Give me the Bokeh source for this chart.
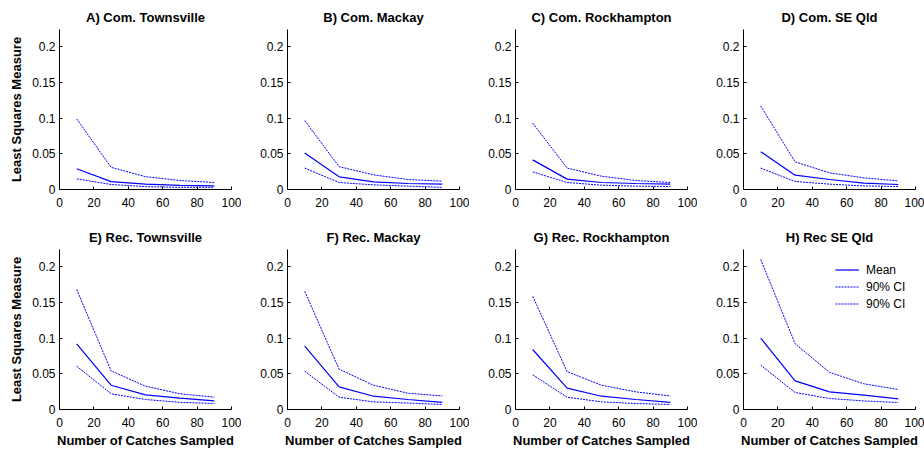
from bokeh.plotting import figure
from bokeh.layouts import gridplot
from bokeh.models import Range1d, FixedTicker, Legend, LegendItem
from bokeh.embed import file_html
from bokeh.resources import INLINE

# ---- data ----
catches = [10, 30, 50, 70, 90]
titles = ["A) Com. Townsville", "B) Com. Mackay", "C) Com. Rockhampton", "D) Com. SE Qld",
          "E) Rec. Townsville", "F) Rec. Mackay", "G) Rec. Rockhampton", "H) Rec SE Qld"]
mean_ls = [
    [0.029, 0.011, 0.0075, 0.0058, 0.005],
    [0.051, 0.0177, 0.0107, 0.0084, 0.0075],
    [0.0415, 0.0145, 0.0098, 0.0084, 0.0075],
    [0.053, 0.020, 0.014, 0.009, 0.007],
    [0.092, 0.034, 0.0205, 0.016, 0.012],
    [0.0886, 0.0317, 0.0186, 0.014, 0.010],
    [0.084, 0.030, 0.0186, 0.014, 0.010],
    [0.100, 0.040, 0.0247, 0.020, 0.015],
]
upper_ci = [
    [0.0988, 0.031, 0.018, 0.0126, 0.0098],
    [0.0965, 0.032, 0.0205, 0.014, 0.0117],
    [0.093, 0.030, 0.0186, 0.0126, 0.0098],
    [0.117, 0.0387, 0.0233, 0.0163, 0.012],
    [0.168, 0.054, 0.0326, 0.022, 0.0172],
    [0.1655, 0.0564, 0.034, 0.0228, 0.019],
    [0.1585, 0.053, 0.034, 0.0247, 0.019],
    [0.210, 0.092, 0.052, 0.036, 0.028],
]
lower_ci = [
    [0.0149, 0.007, 0.004, 0.003, 0.003],
    [0.030, 0.0098, 0.0065, 0.0047, 0.003],
    [0.0247, 0.0098, 0.006, 0.0047, 0.0042],
    [0.030, 0.0112, 0.0075, 0.005, 0.0042],
    [0.0606, 0.022, 0.014, 0.010, 0.0084],
    [0.0536, 0.0172, 0.0107, 0.009, 0.007],
    [0.0485, 0.0172, 0.0107, 0.0084, 0.007],
    [0.062, 0.0238, 0.0154, 0.012, 0.0098],
]
x_ticks = [0, 20, 40, 60, 80, 100]
y_ticks = [0, 0.05, 0.1, 0.15, 0.2]
y_tick_labels = ["0", "0.05", "0.1", "0.15", "0.2"]
legend_labels = ["Mean", "90% CI", "90% CI"]

FONT = "Liberation Sans"
BLUE = "#0000ff"

figs = []
for i in range(8):
    r, c = divmod(i, 4)
    left = 59 if c == 0 else 46
    right = 10 if c < 3 else 9
    w = left + 172 + right
    top = 29
    bottom = 31 if r == 0 else 41
    h = top + 160 + bottom
    p = figure(width=w, height=h, output_backend="svg", toolbar_location=None,
               x_range=Range1d(0, 100), y_range=Range1d(0, 0.224),
               min_border_left=left, min_border_right=right,
               min_border_top=top, min_border_bottom=bottom,
               title=titles[i])
    p.title.text_font = FONT
    p.title.text_font_size = "13px"
    p.title.text_font_style = "bold"
    p.title.align = "center"
    p.title.standoff = 9
    p.title.text_color = "black"
    p.outline_line_color = None
    p.xgrid.visible = False
    p.ygrid.visible = False
    p.background_fill_color = "white"
    p.border_fill_color = "white"
    for ax in (p.xaxis[0], p.yaxis[0]):
        ax.axis_line_color = "black"
        ax.major_tick_line_color = "black"
        ax.major_tick_in = 3
        ax.major_tick_out = 0
        ax.minor_tick_line_color = None
        ax.major_label_text_font = FONT
        ax.major_label_text_font_size = "12px"
        ax.major_label_text_color = "black"
        ax.axis_label_text_font = FONT
        ax.axis_label_text_font_size = "13px"
        ax.axis_label_text_font_style = "bold"
        ax.axis_label_text_color = "black"
    p.xaxis[0].ticker = FixedTicker(ticks=x_ticks)
    p.yaxis[0].ticker = FixedTicker(ticks=y_ticks)
    p.yaxis[0].major_label_overrides = {t: l for t, l in zip(y_ticks, y_tick_labels)}
    p.xaxis[0].major_label_standoff = 8
    p.yaxis[0].major_label_standoff = 4
    if c == 0:
        p.yaxis[0].axis_label = "Least Squares Measure"
        p.yaxis[0].axis_label_standoff = 5
    if r == 1:
        p.xaxis[0].axis_label = "Number of Catches Sampled"
        p.xaxis[0].axis_label_standoff = 3

    rm = p.line(catches, mean_ls[i], line_color=BLUE, line_width=1.2)
    ru = p.line(catches, upper_ci[i], line_color=BLUE, line_width=1, line_dash="2 1")
    rl = p.line(catches, lower_ci[i], line_color=BLUE, line_width=1, line_dash="2 1")
    if i == 7:
        leg = Legend(items=[LegendItem(label=legend_labels[0], renderers=[rm]),
                            LegendItem(label=legend_labels[1], renderers=[ru]),
                            LegendItem(label=legend_labels[2], renderers=[rl])],
                     location=(92, 98), border_line_color=None,
                     background_fill_alpha=0, padding=0, margin=0, spacing=2,
                     glyph_width=24, glyph_height=15, label_height=15,
                     label_standoff=7, label_text_font=FONT,
                     label_text_font_size="12px", label_text_color="black")
        p.add_layout(leg)
    figs.append(p)

grid = gridplot([figs[:4], figs[4:]], toolbar_location=None)
open("out.html", "w").write(file_html(grid, INLINE))
